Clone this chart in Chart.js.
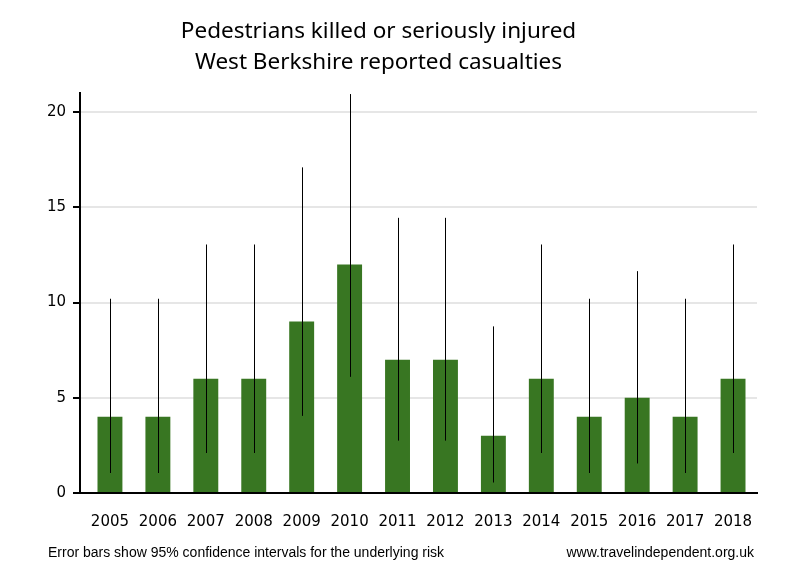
<!DOCTYPE html>
<html>
<head>
<meta charset="utf-8">
<script src="https://cdn.jsdelivr.net/npm/chart.js@4"></script>
<style>
  body { margin: 0; background: #fff; }
  #wrap { width: 800px; height: 580px; }
</style>
</head>
<body>
<div id="wrap"><canvas id="chart" width="800" height="580"></canvas></div>
<script>
const years = ['2005', '2006', '2007', '2008', '2009', '2010', '2011', '2012', '2013', '2014', '2015', '2016', '2017', '2018'];
const casualties = [4, 4, 6, 6, 9, 12, 7, 7, 3, 6, 4, 5, 4, 6];
const ciLower = [1.05, 1.05, 2.1, 2.1, 4.05, 6.1, 2.75, 2.75, 0.55, 2.1, 1.05, 1.55, 1.05, 2.1];
const ciUpper = [10.2, 10.2, 13.05, 13.05, 17.1, 20.95, 14.45, 14.45, 8.75, 13.05, 10.2, 11.65, 10.2, 13.05];
const yTicks = [0, 5, 10, 15, 20];

const titleLines = ['Pedestrians killed or seriously injured', 'West Berkshire reported casualties'];
const footLeft = 'Error bars show 95% confidence intervals for the underlying risk';
const footRight = 'www.travelindependent.org.uk';

// error bars drawn through the scales
const errorBars = {
    id: 'errorBars',
    afterDatasetsDraw(chart) {
        const ctx = chart.ctx;
        const x = chart.scales.x;
        const y = chart.scales.y;
        ctx.save();
        ctx.strokeStyle = '#000';
        ctx.lineWidth = 1;
        years.forEach((yr, i) => {
            const px = Math.round(x.getPixelForValue(i)) + 0.5;
            ctx.beginPath();
            ctx.moveTo(px, y.getPixelForValue(ciUpper[i]));
            ctx.lineTo(px, y.getPixelForValue(ciLower[i]));
            ctx.stroke();
        });
        ctx.restore();
    }
};

const footer = {
    id: 'footer',
    afterDraw(chart) {
        const ctx = chart.ctx;
        ctx.save();
        ctx.fillStyle = '#000';
        ctx.font = '14px "Liberation Sans Narrow", sans-serif';
        ctx.textBaseline = 'middle';
        ctx.textAlign = 'left';
        ctx.fillText(footLeft, 48, 553);
        ctx.textAlign = 'right';
        ctx.fillText(footRight, 754, 553);
        ctx.restore();
    }
};

new Chart(document.getElementById('chart'), {
    type: 'bar',
    data: {
        datasets: [{
            data: casualties.map((v, i) => ({ x: i, y: v })),
            backgroundColor: '#387622',
            borderWidth: 0,
            barPercentage: 0.52,
            categoryPercentage: 1
        }]
    },
    options: {
        responsive: false,
        animation: false,
        layout: { padding: { left: 0, right: 43, top: 0, bottom: 37 } },
        plugins: {
            legend: { display: false },
            tooltip: { enabled: false },
            title: {
                display: true,
                text: titleLines,
                color: '#000',
                font: { family: '"Noto Sans", sans-serif', size: 22.5, weight: 'normal', lineHeight: 1.38 },
                padding: { top: 16, bottom: 15 }
            }
        },
        scales: {
            x: {
                type: 'linear',
                offset: false,
                min: -0.625,
                max: 13.5,
                afterBuildTicks(scale) {
                    scale.ticks = years.map((y, i) => ({ value: i }));
                },
                grid: { display: false, offset: false },
                border: { color: '#000', width: 2 },
                ticks: {
                    color: '#000',
                    font: { family: '"DejaVu Sans", sans-serif', size: 15 },
                    padding: 12,
                    maxRotation: 0,
                    autoSkip: false,
                    callback: (v) => years[v]
                }
            },
            y: {
                min: 0,
                max: 21,
                afterBuildTicks(scale) {
                    scale.ticks = yTicks.map(v => ({ value: v }));
                },
                afterFit(scale) {
                    scale.width = 80;
                },
                grid: {
                    color: '#e6e6e6',
                    lineWidth: 2,
                    tickColor: '#000',
                    tickLength: 7,
                    tickWidth: 2
                },
                border: { color: '#000', width: 2 },
                ticks: {
                    color: '#000',
                    font: { family: '"DejaVu Sans", sans-serif', size: 15 },
                    padding: 7
                }
            }
        }
    },
    plugins: [errorBars, footer]
});
</script>
</body>
</html>
